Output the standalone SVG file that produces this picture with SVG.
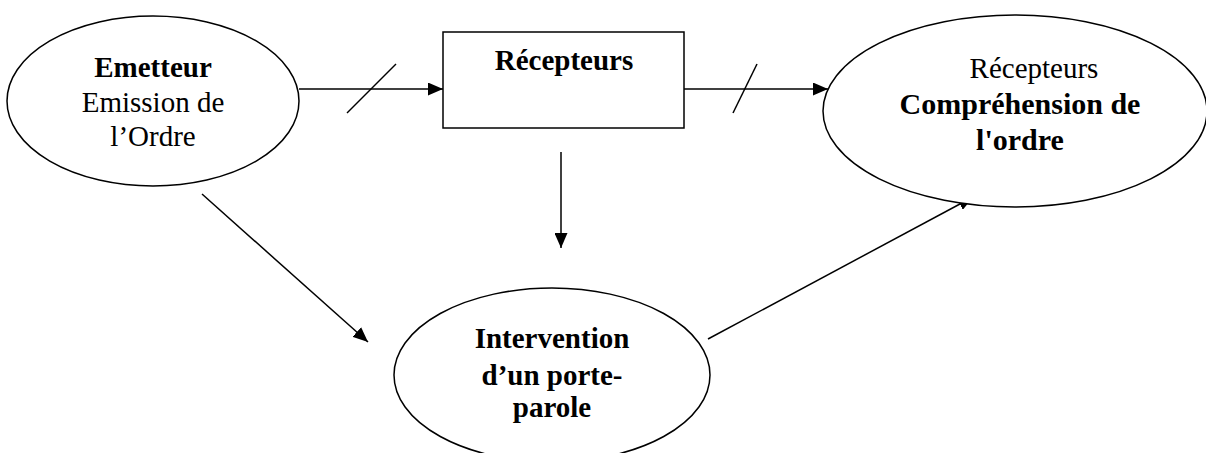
<svg xmlns="http://www.w3.org/2000/svg" width="1206" height="453" viewBox="0 0 1206 453">
<style>
.shape{fill:#fff;stroke:#000;stroke-width:1.5}
.ln{fill:none;stroke:#000;stroke-width:1.5}
text{font-family:"Liberation Serif","Times New Roman",serif;font-size:29px;fill:#000;text-anchor:middle}
.b{font-weight:bold}
</style>
<defs>
<marker id="ah" markerUnits="userSpaceOnUse" markerWidth="16" markerHeight="13" refX="15" refY="6.5" orient="auto">
<path d="M0,0 L15,6.5 L0,13 z" fill="#000"/>
</marker>
</defs>
<rect width="1206" height="453" fill="#fff"/>
<g id="connectors">
<line class="ln" x1="299" y1="89" x2="443" y2="89" marker-end="url(#ah)"/>
<line class="ln" x1="347" y1="113" x2="396" y2="64"/>
<line class="ln" x1="684" y1="89" x2="828" y2="89" marker-end="url(#ah)"/>
<line class="ln" x1="733" y1="113" x2="757" y2="64"/>
<line class="ln" x1="561" y1="152" x2="561" y2="248" marker-end="url(#ah)"/>
<line class="ln" x1="202" y1="194" x2="368" y2="342" marker-end="url(#ah)"/>
<line class="ln" x1="708" y1="339" x2="973" y2="197" marker-end="url(#ah)"/>
</g>
<g id="emetteur">
<ellipse class="shape" cx="153" cy="101" rx="146" ry="85"/>
<text x="153" y="77" class="b">Emetteur</text>
<text x="153" y="112">Emission de</text>
<text x="153" y="146">l’Ordre</text>
</g>
<g id="recepteurs-box">
<rect class="shape" x="443" y="32" width="241" height="96"/>
<text x="564" y="70" class="b">Récepteurs</text>
</g>
<g id="comprehension">
<ellipse class="shape" cx="1015" cy="111" rx="192" ry="96"/>
<text x="1034" y="78">Récepteurs</text>
<text x="1020" y="114" class="b" style="font-size:30px">Compréhension de</text>
<text x="1020" y="150" class="b" style="font-size:30px">l'ordre</text>
</g>
<g id="porte-parole">
<ellipse class="shape" cx="552" cy="375" rx="158" ry="87"/>
<text x="552" y="348" class="b">Intervention</text>
<text x="552" y="385" class="b">d’un porte-</text>
<text x="552" y="417" class="b">parole</text>
</g>
</svg>
